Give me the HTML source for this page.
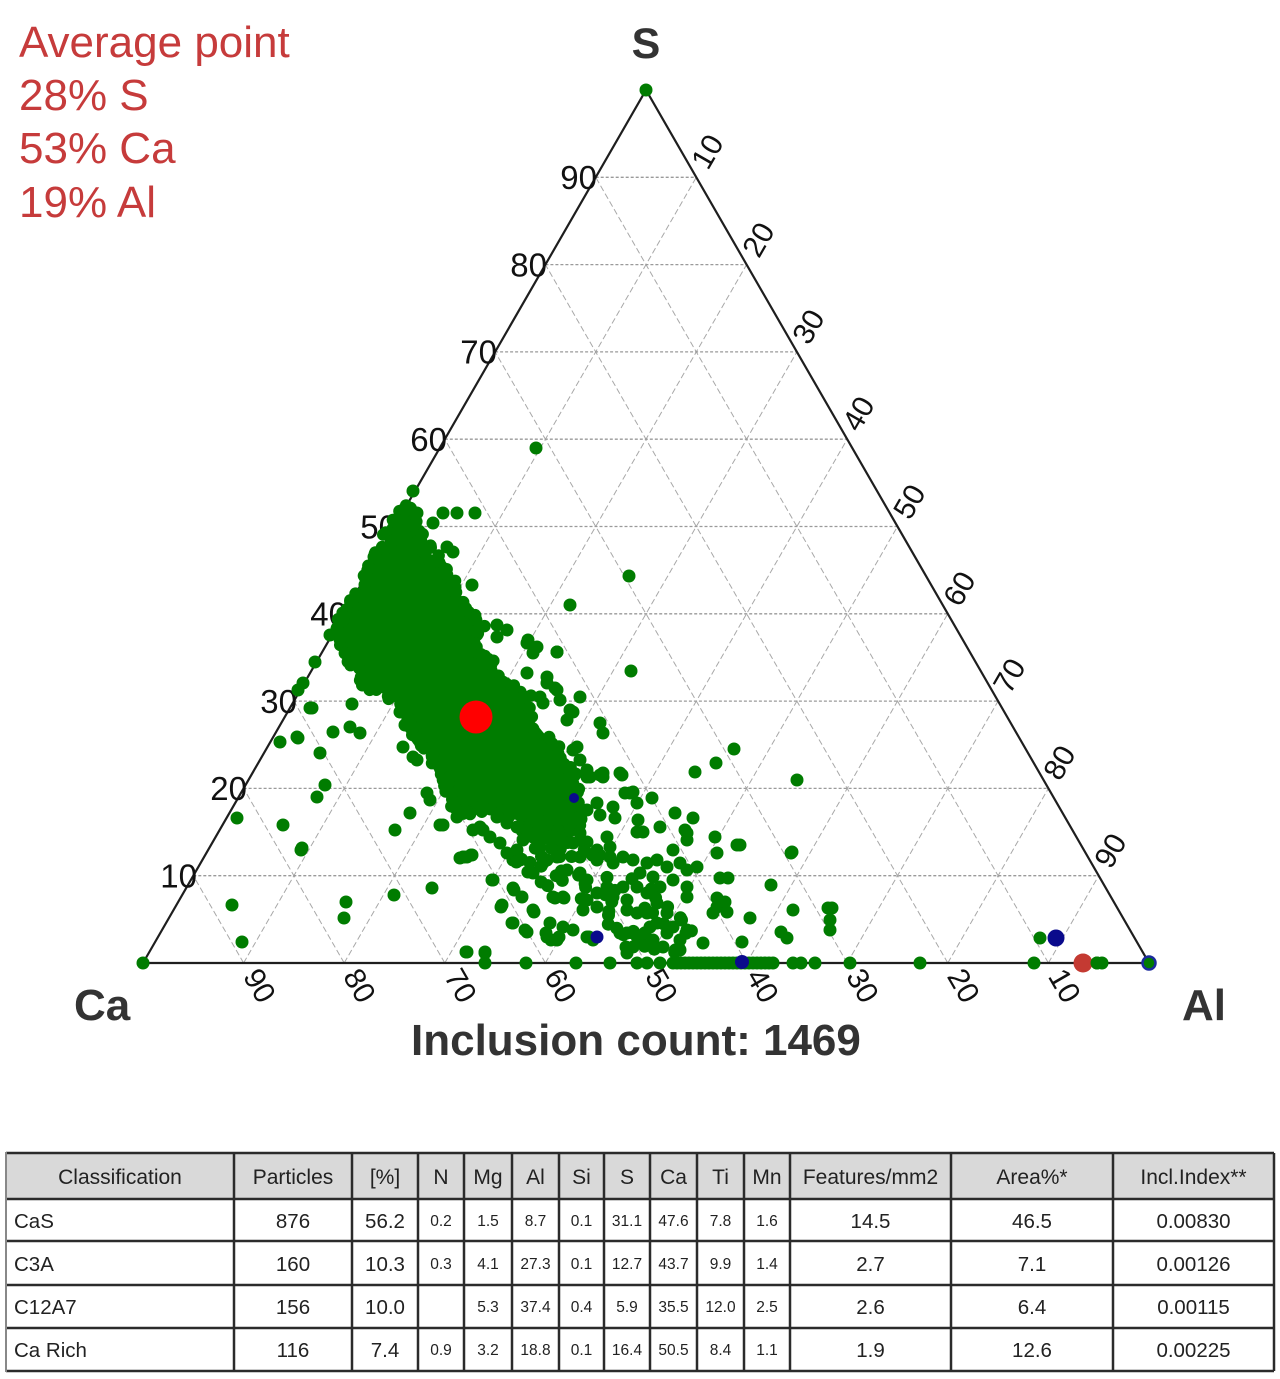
<!DOCTYPE html>
<html><head><meta charset="utf-8">
<style>
html,body{margin:0;padding:0;background:#fff;}
svg{display:block;}
text{font-family:"Liberation Sans",Arial,sans-serif;}
</style></head><body>
<svg id="s" width="1280" height="1379" viewBox="0 0 1280 1379" xmlns="http://www.w3.org/2000/svg">
<rect width="1280" height="1379" fill="#fff"/>
<g fill="#c63b3b" font-size="44">
<text x="19" y="57">Average point</text>
<text x="19" y="110">28% S</text>
<text x="19" y="163">53% Ca</text>
<text x="19" y="217">19% Al</text>
</g>
<g fill="#333" font-weight="bold" font-size="43">
<text x="646" y="58" text-anchor="middle">S</text>
<text x="74" y="1020" font-size="44">Ca</text>
<text x="1182" y="1020" font-size="44">Al</text>
<text x="411" y="1055" font-size="44">Inclusion count: 1469</text>
</g>
<!-- grid -->
<g stroke="#a8a8a8" stroke-width="1" fill="none" stroke-dasharray="6,3">
<path d="M243.6,963L193.3,875.7M344.2,963L243.6,788.4M444.8,963L293.9,701.1M545.4,963L344.2,613.8M646,963L394.5,526.5M746.6,963L444.8,439.2M847.2,963L495.1,351.9M947.8,963L545.4,264.6M1048.4,963L595.7,177.3"/>
<path d="M243.6,963L696.3,177.3M344.2,963L746.6,264.6M444.8,963L796.9,351.9M545.4,963L847.2,439.2M646,963L897.5,526.5M746.6,963L947.8,613.8M847.2,963L998.1,701.1M947.8,963L1048.4,788.4M1048.4,963L1098.7,875.7"/>
</g>
<g stroke="#9a9a9a" stroke-width="1.3" fill="none" stroke-dasharray="3,2">
<path d="M193.3,875.7H1098.7M243.6,788.4H1048.4M293.9,701.1H998.1M344.2,613.8H947.8M394.5,526.5H897.5M444.8,439.2H847.2M495.1,351.9H796.9M545.4,264.6H746.6M595.7,177.3H696.3"/>
</g>
<path d="M143,963L646,90L1149,963Z" fill="none" stroke="#1e1e1e" stroke-width="2.2" stroke-linejoin="miter"/>
<!-- left labels -->
<g fill="#111" font-size="33" text-anchor="end">
<text x="197" y="887.5">10</text>
<text x="247" y="800.2">20</text>
<text x="297" y="712.9">30</text>
<text x="347" y="625.6">40</text>
<text x="397" y="538.3">50</text>
<text x="447" y="451">60</text>
<text x="497" y="363.7">70</text>
<text x="547" y="276.4">80</text>
<text x="597" y="189.1">90</text>
</g>
<!-- right labels -->
<g fill="#111" font-size="30" text-anchor="middle" dominant-baseline="central">
<text x="708" y="152" transform="rotate(-60 708 152)">10</text>
<text x="759" y="240" transform="rotate(-60 759 240)">20</text>
<text x="809" y="327" transform="rotate(-60 809 327)">30</text>
<text x="859" y="414" transform="rotate(-60 859 414)">40</text>
<text x="910" y="502" transform="rotate(-60 910 502)">50</text>
<text x="960" y="589" transform="rotate(-60 960 589)">60</text>
<text x="1010" y="676" transform="rotate(-60 1010 676)">70</text>
<text x="1060" y="763" transform="rotate(-60 1060 763)">80</text>
<text x="1111" y="851" transform="rotate(-60 1111 851)">90</text>
</g>
<!-- bottom labels -->
<g fill="#111" font-size="30" text-anchor="middle" dominant-baseline="central">
<text x="259" y="986" transform="rotate(60 259 986)">90</text>
<text x="359" y="986" transform="rotate(60 359 986)">80</text>
<text x="460" y="986" transform="rotate(60 460 986)">70</text>
<text x="560" y="986" transform="rotate(60 560 986)">60</text>
<text x="661" y="986" transform="rotate(60 661 986)">50</text>
<text x="762" y="986" transform="rotate(60 762 986)">40</text>
<text x="862" y="986" transform="rotate(60 862 986)">30</text>
<text x="963" y="986" transform="rotate(60 963 986)">20</text>
<text x="1064" y="986" transform="rotate(60 1064 986)">10</text>
</g>
<!-- dense blob -->
<path id="blob" fill="#007c00" d="M401,514L405,508L412,512L414,528L425,545L435,560L447,572L453,585L460,603L475,613L480,627L470,637L477,650L490,663L500,680L513,688L527,700L533,720L547,737L560,757L572,775L577,795L580,810L572,830L555,840L535,835L520,822L500,812L478,808L460,812L452,800L447,785L440,767L423,747L414,733L408,714L393,700L367,684L347,660L339,635L342,620L352,600L369,570L386,540Z"/>
<g id="dots"></g>
<!-- table -->
<rect x="6" y="1153" width="1268" height="46" fill="#d9d9d9"/>
<g stroke="#2b2b2b" stroke-width="2.5">
<path d="M6,1153H1274M6,1199H1274M6,1241H1274M6,1285H1274M6,1328H1274M6,1371H1274"/>
<path d="M234,1153V1371M352,1153V1371M418,1153V1371M464,1153V1371M512,1153V1371M559,1153V1371M604,1153V1371M650,1153V1371M697,1153V1371M744,1153V1371M790,1153V1371M951,1153V1371M1113,1153V1371M1274,1153V1371"/>
</g>
<path d="M6,1152V1372" stroke="#888" stroke-width="2"/>
<g fill="#222" font-size="21" text-anchor="middle">
<text x="120" y="1184">Classification</text>
<text x="293" y="1184">Particles</text>
<text x="385" y="1184">[%]</text>
<text x="441" y="1184">N</text>
<text x="488" y="1184">Mg</text>
<text x="535.5" y="1184">Al</text>
<text x="581.5" y="1184">Si</text>
<text x="627" y="1184">S</text>
<text x="673.5" y="1184">Ca</text>
<text x="720.5" y="1184">Ti</text>
<text x="767" y="1184">Mn</text>
<text x="870.5" y="1184">Features/mm2</text>
<text x="1032" y="1184">Area%*</text>
<text x="1193.5" y="1184">Incl.Index**</text>
</g>
<g fill="#222" font-size="20.5">
<text x="14" y="1228">CaS</text>
<text x="14" y="1271">C3A</text>
<text x="14" y="1314">C12A7</text>
<text x="14" y="1357">Ca Rich</text>
</g>
<g fill="#222" font-size="20.5" text-anchor="middle">
<text x="293" y="1228">876</text><text x="385" y="1228">56.2</text><text x="870.5" y="1228">14.5</text><text x="1032" y="1228">46.5</text><text x="1193.5" y="1228">0.00830</text>
<text x="293" y="1271">160</text><text x="385" y="1271">10.3</text><text x="870.5" y="1271">2.7</text><text x="1032" y="1271">7.1</text><text x="1193.5" y="1271">0.00126</text>
<text x="293" y="1314">156</text><text x="385" y="1314">10.0</text><text x="870.5" y="1314">2.6</text><text x="1032" y="1314">6.4</text><text x="1193.5" y="1314">0.00115</text>
<text x="293" y="1357">116</text><text x="385" y="1357">7.4</text><text x="870.5" y="1357">1.9</text><text x="1032" y="1357">12.6</text><text x="1193.5" y="1357">0.00225</text>
</g>
<g fill="#222" font-size="15.5" text-anchor="middle">
<text x="441" y="1226">0.2</text><text x="488" y="1226">1.5</text><text x="535.5" y="1226">8.7</text><text x="581.5" y="1226">0.1</text><text x="627" y="1226">31.1</text><text x="673.5" y="1226">47.6</text><text x="720.5" y="1226">7.8</text><text x="767" y="1226">1.6</text>
<text x="441" y="1269">0.3</text><text x="488" y="1269">4.1</text><text x="535.5" y="1269">27.3</text><text x="581.5" y="1269">0.1</text><text x="627" y="1269">12.7</text><text x="673.5" y="1269">43.7</text><text x="720.5" y="1269">9.9</text><text x="767" y="1269">1.4</text>
<text x="488" y="1312">5.3</text><text x="535.5" y="1312">37.4</text><text x="581.5" y="1312">0.4</text><text x="627" y="1312">5.9</text><text x="673.5" y="1312">35.5</text><text x="720.5" y="1312">12.0</text><text x="767" y="1312">2.5</text>
<text x="441" y="1355">0.9</text><text x="488" y="1355">3.2</text><text x="535.5" y="1355">18.8</text><text x="581.5" y="1355">0.1</text><text x="627" y="1355">16.4</text><text x="673.5" y="1355">50.5</text><text x="720.5" y="1355">8.4</text><text x="767" y="1355">1.1</text>
</g>
</svg>
<script>
(function(){
var NS="http://www.w3.org/2000/svg";
var g=document.getElementById('dots');
function c(x,y,r,f,st,sw){var e=document.createElementNS(NS,'circle');e.setAttribute('cx',x);e.setAttribute('cy',y);e.setAttribute('r',r);e.setAttribute('fill',f);if(st){e.setAttribute('stroke',st);e.setAttribute('stroke-width',sw||2);}g.appendChild(e);}
var a=12345;
function rnd(){a|=0;a=a+0x6D2B79F5|0;var t=Math.imul(a^a>>>15,1|a);t=t+Math.imul(t^t>>>7,61|t)^t;return((t^t>>>14)>>>0)/4294967296;}
var GR="#007c00";
var R=6.5;
var P=[[401,514],[405,508],[412,512],[414,528],[425,545],[435,560],[447,572],[453,585],[460,603],[475,613],[480,627],[470,637],[477,650],[490,663],[500,680],[513,688],[527,700],[533,720],[547,737],[560,757],[572,775],[577,795],[580,810],[572,830],[555,840],[535,835],[520,822],[500,812],[478,808],[460,812],[452,800],[447,785],[440,767],[423,747],[414,733],[408,714],[393,700],[367,684],[347,660],[339,635],[342,620],[352,600],[369,570],[386,540]];
var i;
for(i=0;i<300;i++){
 var k=Math.floor(rnd()*P.length),p=P[k],q=P[(k+1)%P.length],t=rnd();
 var x=p[0]+(q[0]-p[0])*t,y=p[1]+(q[1]-p[1])*t;
 var ang=rnd()*6.283,d=rnd()*6;
 c((x+Math.cos(ang)*d).toFixed(1),(y+Math.sin(ang)*d).toFixed(1),6.2,GR);
}
var G=[[646,90],[536,448],[413,491],[475,513],[457,513],[443,513],[417,513],[433,523],[629,576],[570,605],[631,671],[472,585],[447,547],[453,552],[734,749],[716,763],[797,780],[695,772],[600,723],[603,733],[580,697],[528,640],[537,647],[557,652],[547,677],[540,697],[560,700],[555,688],[573,712],[567,720],[577,747],[580,760],[587,777],[600,775],[622,775],[630,793],[613,807],[652,798],[675,813],[693,818],[660,827],[687,833],[715,837],[740,845],[792,852],[497,625],[507,630],[497,637],[527,643],[533,653],[527,673],[547,683],[557,690],[543,703],[570,710],[557,652],[573,750],[587,770],[603,777],[620,773],[590,777],[603,773],[625,793],[633,792],[637,803],[597,803],[600,815],[615,818],[638,820],
[330,635],[315,662],[303,683],[298,690],[310,708],[352,704],[280,742],[298,738],[333,732],[320,753],[350,727],[360,733],[325,785],[317,797],[237,818],[283,825],[302,848],[395,830],[410,813],[463,857],[430,800],[440,825],[413,757],[417,760],[403,747],[427,793],[312,708],[297,737],[400,712],[405,725],
[301,850],[232,905],[242,942],[346,902],[344,918],[394,895],[432,888],[466,952],[485,953],[464,857],[471,855],[492,880],[501,907],[514,890],[534,912],[512,923],[525,930],[546,933],[555,898],[564,898],[589,937],[626,947],[559,937],[551,940],[457,817],[467,857],[473,830],[483,830],[493,880],[502,905],
[637,832],[643,832],[685,830],[687,840],[673,850],[717,853],[737,845],[607,837],[610,847],[597,850],[587,842],[573,843],[580,857],[558,842],
[567,870],[580,873],[587,880],[597,860],[610,857],[623,857],[633,860],[647,863],[657,860],[667,867],[680,863],[687,870],[697,867],[640,873],[653,877],[673,880],[687,887],[687,897],[623,887],[637,887],[647,893],[660,887],[607,887],[597,893],[587,900],[583,910],[597,907],[613,897],[627,900],[627,910],[637,913],[647,913],[657,903],[667,913],[657,923],[650,927],[673,927],[687,930],[667,933],[653,940],[663,947],[680,940],[640,940],[627,933],[620,933],[633,947],[627,953],[680,950],[703,943],[717,907],[725,902],[717,898],[727,912],[713,913],[720,878],[728,878],
[567,833],[550,837],[540,847],[557,857],[547,860],[533,873],[543,863],[520,860],[513,860],[513,888],[522,897],[533,910],[513,923],[527,932],[553,897],[563,897],[550,923],[547,937],[557,940],[563,927],[573,930],[587,937],[593,940],[467,952],[485,952],[460,858],[472,855],[443,825],
[480,827],[490,837],[500,843],[507,853],[517,850],[523,840],[533,837],[540,827],[550,820],[557,813],[573,820],[580,833],[587,810],[567,803],[540,810],[523,813],[507,823],[497,817],[517,827],
[771,885],[791,853],[793,910],[750,918],[742,942],[781,932],[787,938],[828,908],[830,920],[830,930],[1040,938],[832,908],
[143,963],[485,963],[526,963],[576,963],[610,963],[637,963],[647,963],[660,963],[793,963],[801,963],[815,963],[850,963],[920,963],[1034,963],[1097,963],[1102,963]];
for(i=0;i<G.length;i++)c(G[i][0],G[i][1],R,GR);
for(var x=673;x<=773;x+=4)c(x,963,R,GR);
/* medium band texture */
for(i=0;i<60;i++){
 var t2=rnd(),w=(rnd()-0.5)*60;
 var bx=530+160*t2,by=840+105*t2;
 c((bx+w*0.55).toFixed(1),(by-w*0.83).toFixed(1),R,GR);
}
/* blue */
c(597,937,6.5,"#0a0a8c");
c(574,798,5,"#0a0a8c");
c(742,962,7,"#0a0a8c");
c(1056,938,8.5,"#0a0a8c");
c(1149,963,6.5,GR,"#1a2a9c",2.5);
/* red */
c(1083,963,9.5,"#c43a32");
c(1097,963,6.5,GR);
c(476,717,16.5,"#ff0000");
})();
</script>
</body></html>
